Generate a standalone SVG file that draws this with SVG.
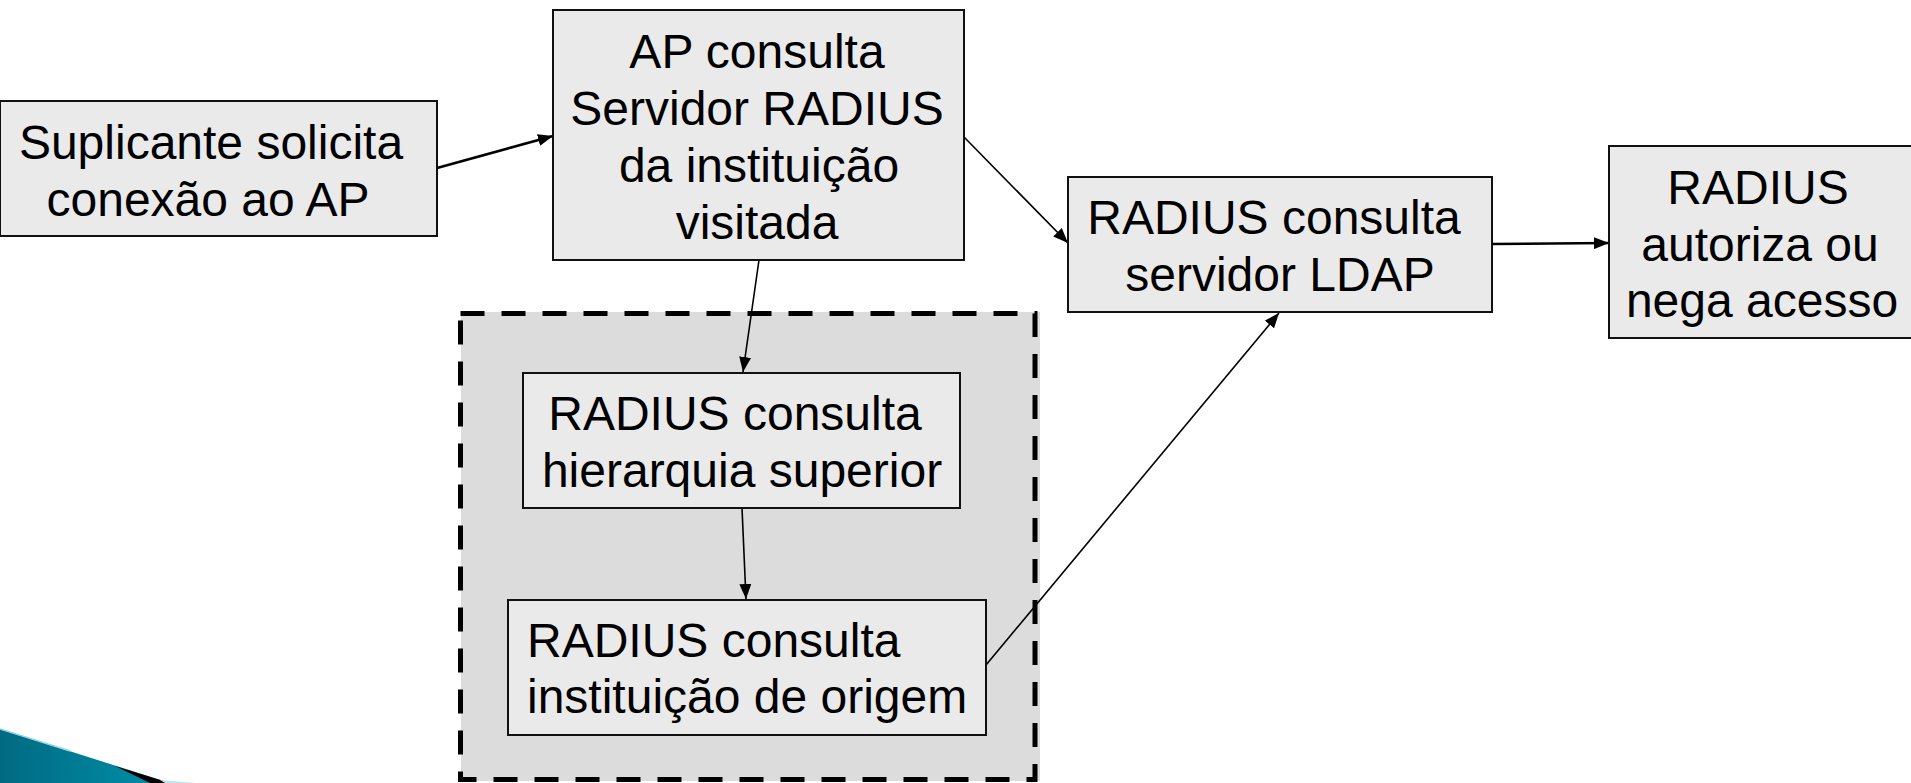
<svg xmlns="http://www.w3.org/2000/svg" width="1911" height="783" viewBox="0 0 1911 783">
<style>
.box{fill:#eaeaea;stroke:#111;stroke-width:2}
.t{font-family:"Liberation Sans",Arial,sans-serif;font-size:48px;fill:#000;text-anchor:middle}
.tl{text-anchor:start}
.c{stroke:#000;stroke-width:1.6;fill:none;marker-end:url(#ah)}
.cb{stroke-width:2.6}
</style>
<defs>
<marker id="ah" markerUnits="userSpaceOnUse" markerWidth="15" markerHeight="12" viewBox="0 0 15 12" refX="15" refY="6" orient="auto">
<path d="M0,0 L15,6 L0,12 Z" fill="#000"/>
</marker>
<linearGradient id="teal" x1="0" y1="0" x2="1" y2="0">
<stop offset="0" stop-color="#006a82"/>
<stop offset="1" stop-color="#0090aa"/>
</linearGradient>
</defs>
<rect width="1911" height="783" fill="#fff"/>
<g id="decoration">
<path d="M0,729 L170,783 L0,783 Z" fill="url(#teal)"/>
<path d="M0,729 L70,751" stroke="#8fd3df" stroke-width="1.5"/>
<path d="M115,766 L170,783 L150,783 Z" fill="#000"/>
<path d="M160,780 L196,783 L165,783 Z" fill="#bfe6ee"/>
</g>
<g id="container">
<rect x="461" y="312" width="579" height="469" fill="#dcdcdc"/>
<rect x="460.5" y="313.5" width="574.5" height="466" fill="none" stroke="#000" stroke-width="5" stroke-dasharray="24 17"/>
</g>
<g id="connectors">
<line class="c cb" x1="437" y1="168" x2="553" y2="136"/>
<line class="c" x1="964" y1="137" x2="1068" y2="243"/>
<line class="c cb" x1="1492" y1="244" x2="1609" y2="243"/>
<line class="c" x1="759" y1="260" x2="743" y2="372"/>
<line class="c" x1="742" y1="508" x2="746" y2="599"/>
<line class="c" x1="986" y1="665" x2="1279" y2="313"/>
</g>
<g id="n1">
<rect class="box" x="0" y="101" width="437" height="135"/>
<text class="t" x="211" y="159">Suplicante solicita</text>
<text class="t" x="208" y="216">conexão ao AP</text>
</g>
<g id="n2">
<rect class="box" x="553" y="10" width="411" height="250"/>
<text class="t" x="757" y="68">AP consulta</text>
<text class="t" x="757" y="125">Servidor RADIUS</text>
<text class="t" x="759" y="182">da instituição</text>
<text class="t" x="757" y="239">visitada</text>
</g>
<g id="n3">
<rect class="box" x="1068" y="177" width="424" height="135"/>
<text class="t" x="1274" y="234">RADIUS consulta</text>
<text class="t" x="1280" y="291">servidor LDAP</text>
</g>
<g id="n4">
<rect class="box" x="1609" y="146" width="310" height="192"/>
<text class="t" x="1758" y="204">RADIUS</text>
<text class="t" x="1760" y="261">autoriza ou</text>
<text class="t" x="1762" y="317">nega acesso</text>
</g>
<g id="n5">
<rect class="box" x="523" y="373" width="437" height="135"/>
<text class="t" x="735" y="430">RADIUS consulta</text>
<text class="t" x="742" y="487">hierarquia superior</text>
</g>
<g id="n6">
<rect class="box" x="508" y="600" width="478" height="135"/>
<text class="t tl" x="527" y="657">RADIUS consulta</text>
<text class="t tl" x="527" y="713">instituição de origem</text>
</g>
</svg>
